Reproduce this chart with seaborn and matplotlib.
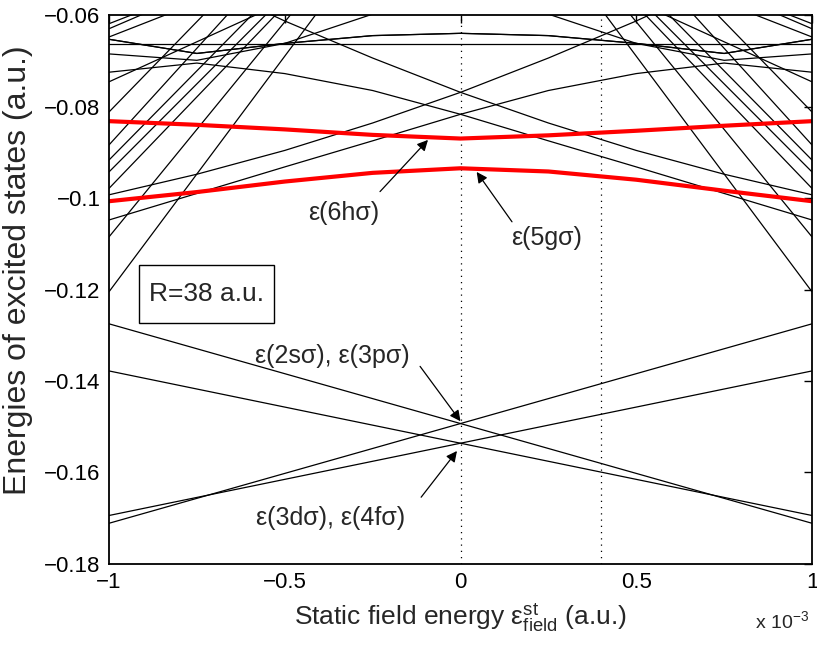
import numpy as np
import pandas as pd
import matplotlib
matplotlib.use('Agg')
import matplotlib.pyplot as plt
import seaborn as sns
from matplotlib.patches import Rectangle
from matplotlib.ticker import FixedLocator, FuncFormatter

# field grid (units of 1e-3 a.u.) used for the curved levels
X_GRID = [-1, -0.75, -0.5, -0.25, 0, 0.25, 0.5, 0.75, 1]

# highlighted levels
RED_6H = [-0.0832, -0.0840, -0.0850, -0.0862, -0.0870, -0.0863, -0.0853, -0.0842, -0.0832]
RED_5G = [-0.1007, -0.0987, -0.0964, -0.0945, -0.0935, -0.0942, -0.0960, -0.0984, -0.1007]

# curved black levels (each one also drawn mirrored about zero field)
CURVES = {
    'flat': [-0.0664, -0.0664, -0.0664, -0.0664, -0.0664, -0.0664, -0.0664, -0.0664, -0.0664],
    'c1': [-0.0653, -0.0684, -0.0662, -0.0645, -0.0640, -0.0645, -0.0662, -0.0684, -0.0653],
    'c2': [-0.0685, -0.0699, -0.0662, -0.0598, -0.0520, -0.0440, -0.0360, -0.0280, -0.0200],
    'p1': [-0.0993, -0.0948, -0.0896, -0.0836, -0.0769, -0.0694, -0.0613, -0.0524, -0.0427],
    'p2': [-0.1048, -0.0990, -0.0932, -0.0875, -0.0817, -0.0765, -0.0728, -0.0705, -0.0725],
}

# straight levels: energy at field -1 and +1 (each one also mirrored)
LOW_LEFT = [-0.1275, -0.1378]
LOW_RIGHT = [-0.1711, -0.1694]
STEEP_LEFT = [-0.0812, -0.0884, -0.0917, -0.0943, -0.0979, -0.1085, -0.1205]
STEEP_RIGHT = [0.0768, 0.0806, 0.0643, 0.0597, 0.0621, 0.0795, 0.0855]
MOD_LEFT = [-0.0619, -0.0630, -0.0648, -0.0746]
MOD_RIGHT = [-0.0019, 0.0030, -0.0048, -0.0046]

DOTTED_X = [0, 0.4]
X_TICKS = [-1, -0.5, 0, 0.5, 1]
Y_TICKS = [-0.18, -0.16, -0.14, -0.12, -0.1, -0.08, -0.06]

rows = []


def add_line(name, xs, vs):
    for x, v in zip(xs, vs):
        rows.append({'line': name, 'x': x, 'v': v})


for key, vals in CURVES.items():
    add_line(key, X_GRID, vals)
    if key != 'flat':
        add_line(key + '_m', X_GRID, vals[::-1])
for i, (a, b) in enumerate(zip(LOW_LEFT + STEEP_LEFT + MOD_LEFT, LOW_RIGHT + STEEP_RIGHT + MOD_RIGHT)):
    add_line('s%d' % i, [-1, 1], [a, b])
    add_line('s%d_m' % i, [-1, 1], [b, a])
black = pd.DataFrame(rows)

red = pd.DataFrame({'line': ['6h'] * len(X_GRID) + ['5g'] * len(X_GRID),
                    'x': X_GRID * 2, 'v': RED_6H + RED_5G})

sns.set_style('white')
plt.rcParams['font.family'] = ['Liberation Sans', 'DejaVu Sans']
plt.rcParams['mathtext.default'] = 'regular'

fig = plt.figure(figsize=(8.17, 6.45), dpi=100)
ax = fig.add_axes([0.1334, 0.1256, 0.8605, 0.8511])

for x0 in DOTTED_X:
    ax.axvline(x0, color='black', ls=(0, (1, 4)), lw=0.9, zorder=1)

sns.lineplot(data=black, x='x', y='v', units='line', estimator=None, sort=False,
             color='black', linewidth=0.9, ax=ax, legend=False)
sns.lineplot(data=red, x='x', y='v', units='line', estimator=None, sort=False,
             color='#ff0000', linewidth=3.0, ax=ax, legend=False)

ax.set_xlim(-1, 1)
ax.set_ylim(-0.18, -0.06)
ax.xaxis.set_major_locator(FixedLocator(X_TICKS))
ax.yaxis.set_major_locator(FixedLocator(Y_TICKS))
fmt = FuncFormatter(lambda v, _: ('%g' % v).replace('-', '\u2212'))
ax.xaxis.set_major_formatter(fmt)
ax.yaxis.set_major_formatter(fmt)
ax.tick_params(direction='in', top=True, right=True, length=6, width=1,
               labelsize=16, pad=6, colors='black')
for sp in ax.spines.values():
    sp.set_linewidth(1.3)
    sp.set_color('black')

ax.set_xlabel('Static field energy ε$^{st}_{field}$ (a.u.)', fontsize=19)
ax.set_ylabel('Energies of excited states (a.u.)', fontsize=23)
ax.xaxis.set_label_coords(0.5, -0.068)
ax.yaxis.set_label_coords(-0.108, 0.535)
fig.text(0.924, 1 - 628 / 645, 'x 10$^{-3}$', fontsize=14, ha='left', va='baseline')

# R label box
ax.add_patch(Rectangle((-0.9146, -0.1273), 0.384, 0.0126, fill=False, ec='black', lw=1.0, zorder=4))
ax.text(-0.7226, -0.1210, 'R=38 a.u.', fontsize=19, ha='center', va='center', zorder=5)

arrow = dict(arrowstyle='-|>', color='black', lw=0.9, mutation_scale=16, shrinkA=0, shrinkB=0)
ax.annotate('', xy=(-0.0925, -0.0873), xytext=(-0.229, -0.0986), arrowprops=arrow)
ax.text(-0.332, -0.1033, 'ε(6hσ)', fontsize=18, ha='center', va='center')
ax.annotate('', xy=(0.046, -0.0943), xytext=(0.1465, -0.1052), arrowprops=arrow)
ax.text(0.246, -0.1087, 'ε(5gσ)', fontsize=18, ha='center', va='center')
ax.annotate('', xy=(0.0, -0.1488), xytext=(-0.115, -0.1368), arrowprops=arrow)
ax.text(-0.366, -0.1345, 'ε(2sσ), ε(3pσ)', fontsize=18, ha='center', va='center')
ax.annotate('', xy=(-0.01, -0.1553), xytext=(-0.112, -0.1654), arrowprops=arrow)
ax.text(-0.371, -0.1700, 'ε(3dσ), ε(4fσ)', fontsize=18, ha='center', va='center')

fig.savefig('out.png', dpi=100)
